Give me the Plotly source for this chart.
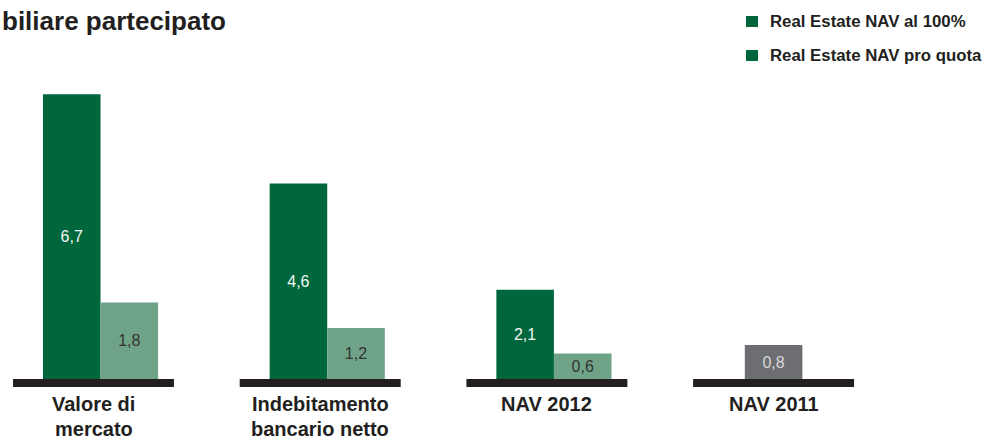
import plotly.graph_objects as go

# Data
categories = ["Valore di<br>mercato", "Indebitamento<br>bancario netto", "NAV 2012", "NAV 2011"]
nav_100 = [6.7, 4.6, 2.1, None]
nav_quota = [1.8, 1.2, 0.6, None]
nav_prev = [None, None, None, 0.8]
series_names = ["Real Estate NAV al 100%", "Real Estate NAV pro quota"]
title_text = "biliare partecipato"

DARK = "#00673D"
LIGHT = "#6FA387"
GREY = "#6D6E71"
INK = "#231F20"
FONT = "Liberation Sans, Arial, sans-serif"

x = list(range(len(categories)))
bar_w = 0.254
pair_shift = 0.031


def fmt(values):
    return ["" if v is None else f"{v:.1f}".replace(".", ",") for v in values]


fig = go.Figure()

fig.add_trace(go.Bar(
    x=x, y=nav_100, width=bar_w, offset=pair_shift - bar_w,
    marker=dict(color=DARK, line=dict(width=0)),
    text=fmt(nav_100), textposition="inside", insidetextanchor="middle",
    constraintext="none",
    textfont=dict(family=FONT, size=16, color="#F2F7F4"),
    name=series_names[0], showlegend=False, hoverinfo="skip",
))
fig.add_trace(go.Bar(
    x=x, y=nav_quota, width=bar_w, offset=pair_shift,
    marker=dict(color=LIGHT, line=dict(width=0)),
    text=fmt(nav_quota), textposition="inside", insidetextanchor="middle",
    constraintext="none",
    textfont=dict(family=FONT, size=16, color="#333333"),
    name=series_names[1], showlegend=False, hoverinfo="skip",
))
fig.add_trace(go.Bar(
    x=x, y=nav_prev, width=bar_w, offset=-bar_w / 2,
    marker=dict(color=GREY, line=dict(width=0)),
    text=fmt(nav_prev), textposition="inside", insidetextanchor="middle",
    constraintext="none",
    textfont=dict(family=FONT, size=16, color="#D9D9DA"),
    showlegend=False, hoverinfo="skip",
))

shapes = []
annotations = []

# Thick base rule under each group and the group label below it
for i, label in enumerate(categories):
    shapes.append(dict(type="rect", xref="x", yref="y",
                       x0=i - 0.355, x1=i + 0.355, y0=0, y1=-0.19,
                       fillcolor=INK, line=dict(width=0), layer="above"))
    for j, line in enumerate(label.split("<br>")):
        annotations.append(dict(
            x=i, y=0, xref="x", yref="y", xanchor="center", yanchor="top",
            yshift=-12 - 24.5 * j, text=line, showarrow=False,
            font=dict(family=FONT, size=20, color=INK, weight="bold"),
        ))

# Legend
for k, name in enumerate(series_names):
    ypix = 21.5 + 34 * k
    shapes.append(dict(type="rect", xref="paper", yref="paper",
                       x0=746 / 984, x1=758 / 984,
                       y0=1 - (ypix + 5.5) / 441, y1=1 - (ypix - 5.5) / 441,
                       fillcolor=DARK, line=dict(width=0)))
    annotations.append(dict(
        x=768 / 984, y=1 - ypix / 441, xref="paper", yref="paper",
        xanchor="left", yanchor="middle", text=name, showarrow=False,
        font=dict(family=FONT, size=16.8, color=INK, weight="bold"),
    ))

# Title
annotations.append(dict(
    x=0, y=1 - 21 / 441, xref="paper", yref="paper", xanchor="left",
    yanchor="middle", text=title_text, showarrow=False,
    font=dict(family=FONT, size=26, color=INK, weight="bold"),
))

px_per_unit = 42.5
base_px = 379
x0 = -93.5 / 226.7
fig.update_layout(
    width=984, height=441,
    margin=dict(l=0, r=0, t=0, b=0),
    paper_bgcolor="white", plot_bgcolor="white",
    barmode="overlay",
    xaxis=dict(range=[x0, x0 + 984 / 226.7], visible=False, fixedrange=True),
    yaxis=dict(range=[-(441 - base_px) / px_per_unit, base_px / px_per_unit],
               visible=False, fixedrange=True),
    shapes=shapes, annotations=annotations,
    showlegend=False,
)

fig.write_html("out.html")
